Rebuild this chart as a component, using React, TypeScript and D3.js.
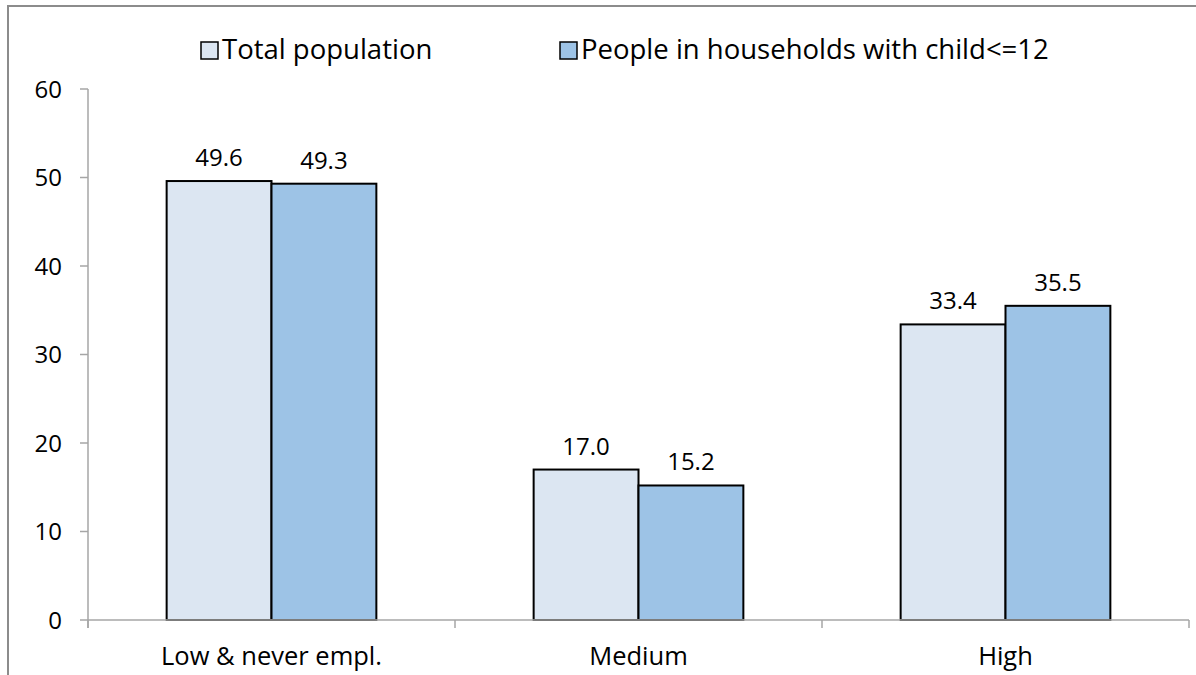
import React from "react";
import * as d3 from "d3";

const categories = ["Low & never empl.", "Medium", "High"];
const seriesNames = ["Total population", "People in households with child<=12"];
const totalPopulation = [49.6, 17.0, 33.4];
const householdsWithChild = [49.3, 15.2, 35.5];
const yTicks = [0, 10, 20, 30, 40, 50, 60];
const colors = ["#DCE6F2", "#9DC3E6"];

const W = 1196;
const H = 675;
const FONT = "'Open Sans', sans-serif";

export default function App() {
  const left = 88, right = 1189, top = 89, bottom = 620;
  const x0 = d3.scaleBand().domain(categories).range([left, right]).paddingInner(0).paddingOuter(0);
  const bw = x0.bandwidth() / 3.5;
  const y = d3.scaleLinear().domain([0, 60]).range([bottom, top]);
  const series = [totalPopulation, householdsWithChild];
  const axisColor = "#A6A6A6";

  return (
    <svg width={W} height={H} style={{ position: "absolute", left: 0, top: 0, background: "#fff" }} fontFamily={FONT}>
      {/* outer border */}
      <path d={`M8,${H + 5} L8,6 L${W + 5},6`} fill="none" stroke="#8C8C8C" strokeWidth={2} />

      {/* y axis */}
      <line x1={left} x2={left} y1={top} y2={bottom + 8} stroke={axisColor} strokeWidth={1.5} />
      {yTicks.map((t) => (
        <g key={t}>
          <line x1={left - 8} x2={left} y1={y(t)} y2={y(t)} stroke={axisColor} strokeWidth={1.5} />
          <text x={62} y={y(t)} dy="0.36em" textAnchor="end" fontSize={24} fill="#000">{t}</text>
        </g>
      ))}

      {/* bars */}
      {categories.map((c, i) => {
        const start = (x0(c) as number) + (x0.bandwidth() - 2 * bw) / 2;
        return (
          <g key={c}>
            {series.map((s, j) => (
              <g key={j}>
                <rect x={start + j * bw} y={y(s[i])} width={bw} height={bottom - y(s[i])}
                  fill={colors[j]} stroke="#000" strokeWidth={2} />
                <text x={start + j * bw + bw / 2} y={y(s[i]) - 15} textAnchor="middle" fontSize={24} fill="#000">
                  {s[i].toFixed(1)}
                </text>
              </g>
            ))}
          </g>
        );
      })}

      {/* x axis */}
      <line x1={left} x2={right} y1={bottom} y2={bottom} stroke={axisColor} strokeWidth={1.5} />
      {[...categories.map((c) => x0(c) as number), right].map((xv, i) => (
        <line key={i} x1={xv} x2={xv} y1={bottom} y2={bottom + 8} stroke={axisColor} strokeWidth={1.5} />
      ))}
      {categories.map((c) => (
        <text key={c} x={(x0(c) as number) + x0.bandwidth() / 2} y={665} textAnchor="middle" fontSize={25.5} fill="#000">{c}</text>
      ))}

      {/* legend */}
      {seriesNames.map((n, j) => {
        const lx = j === 0 ? 201 : 560;
        return (
          <g key={n}>
            <rect x={lx} y={42} width={17} height={17} fill={colors[j]} stroke="#000" strokeWidth={1.5} />
            <text x={lx + 21} y={59} fontSize={27.5} fill="#000">{n}</text>
          </g>
        );
      })}
    </svg>
  );
}
